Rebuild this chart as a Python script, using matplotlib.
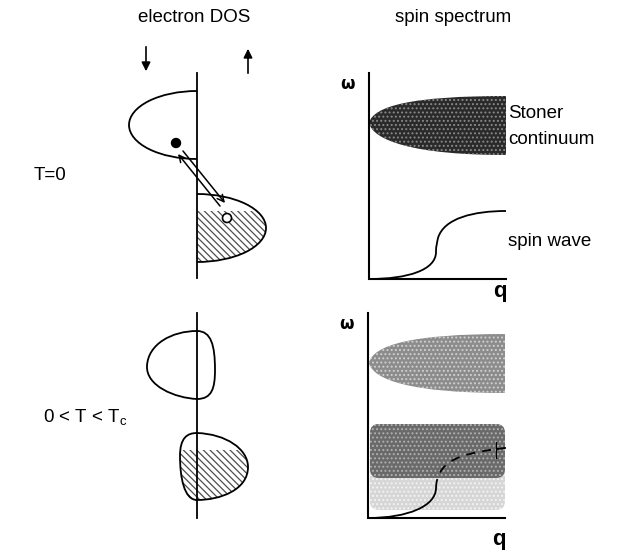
import matplotlib
matplotlib.use("Agg")
import matplotlib.pyplot as plt
from matplotlib.path import Path
from matplotlib.patches import PathPatch, Arc, Ellipse, Circle, Rectangle, FancyBboxPatch

plt.rcParams['font.family'] = ['Liberation Sans', 'DejaVu Sans']
plt.rcParams['hatch.linewidth'] = 0.9

# ---- schematic geometry (pixel coordinates of the picture) ----
dos_axis_x = 197
dos_axis_y = [(73, 278), (313, 518)]          # T=0 panel, 0<T<Tc panel
spec_origin = [(369, 279), (368, 518)]        # omega/q axes origin
spec_top = [73, 313]
spec_right = [506, 505]
q_label_y = [292, 540]

# T=0 densities of states (half ellipses: centre y, half height, width)
dos_minority = (125, 34, 68)
dos_majority = (228, 34, 69)
fermi_T0 = 211
electron = (176, 143)
hole = (227, 218)

# 0<T<Tc densities of states, cubic bezier control points
blob_up = [(197, 331),
           (172, 331), (148, 344), (147, 366),
           (146, 386), (175, 398), (197, 399),
           (212, 399), (215, 388), (215, 370),
           (215, 345), (211, 331), (197, 331)]
blob_down = [(197, 433),
             (226, 434), (248, 449), (248, 467),
             (248, 490), (220, 500), (197, 500),
             (184, 500), (180, 477), (180, 456),
             (180, 438), (187, 433), (197, 433)]
fermi_Tc = 450

# Stoner continuum outlines
stoner_T0 = [(369, 123),
             (373, 106), (412, 96), (506, 96),
             (506, 116), (506, 136), (506, 155),
             (412, 155), (373, 140), (369, 123)]
stoner_Tc = [(369, 363),
             (373, 345), (412, 334), (505, 334),
             (505, 354), (505, 374), (505, 393),
             (412, 393), (373, 380), (369, 363)]

# spin-wave dispersion
spinwave_T0 = [(369, 279),
               (408, 279), (436, 270), (436, 252),
               (436, 246), (437, 243), (438, 238),
               (444, 218), (474, 211), (506, 211)]
spinwave_Tc_solid = [(368, 518),
                     (408, 518), (436, 506), (436, 488)]
spinwave_Tc_dash = [(436, 488),
                    (437, 462), (458, 454), (497, 449)]
damped_box = (370, 424, 135, 86)
damped_dark_h = 54


def bezier(pts):
    codes = [Path.MOVETO] + [Path.CURVE4] * (len(pts) - 1)
    return Path(pts, codes)


fig = plt.figure(figsize=(6.17, 5.53), dpi=100)
ax = fig.add_axes([0, 0, 1, 1])
ax.set_xlim(0, 617)
ax.set_ylim(553, 0)
ax.axis('off')

# ---- titles / labels ----
fs = 13.5
ax.text(194, 18, 'electron DOS', ha='center', va='center', fontsize=fs)
ax.text(453, 18, 'spin spectrum', ha='center', va='center', fontsize=fs)
ax.text(50, 176, 'T=0', ha='center', va='center', fontsize=fs)
ax.text(85, 418, r'0 < T < T$_\mathregular{c}$', ha='center', va='center', fontsize=fs)
ax.text(508, 113, 'Stoner', ha='left', va='center', fontsize=fs)
ax.text(508, 140, 'continuum', ha='left', va='center', fontsize=fs)
ax.text(508, 242, 'spin wave', ha='left', va='center', fontsize=fs)

# spin direction arrows
ax.annotate('', xy=(146, 74), xytext=(146, 44),
            arrowprops=dict(arrowstyle='-|>', color='k', lw=1.2, mutation_scale=13))
ax.annotate('', xy=(248, 46), xytext=(248, 76),
            arrowprops=dict(arrowstyle='-|>', color='k', lw=1.2, mutation_scale=13))

# ---- electron DOS panels ----
for y0, y1 in dos_axis_y:
    ax.plot([dos_axis_x, dos_axis_x], [y0, y1], color='k', lw=1.3)

cy, hh, w = dos_minority
ax.add_patch(Arc((dos_axis_x, cy), 2 * w, 2 * hh, theta1=90, theta2=270, color='k', lw=1.3))
cy, hh, w = dos_majority
hatched = Ellipse((dos_axis_x, cy), 2 * w, 2 * hh, facecolor='none',
                  edgecolor='#4d4d4d', hatch='\\\\\\\\\\', lw=0)
ax.add_patch(hatched)
hatched.set_clip_path(Rectangle((dos_axis_x, fermi_T0), 200, 200, transform=ax.transData))
ax.add_patch(Arc((dos_axis_x, cy), 2 * w, 2 * hh, theta1=-90, theta2=90, color='k', lw=1.3))

ax.add_patch(Circle(electron, 4.5, color='k', zorder=5))
ax.add_patch(Circle(hole, 4.5, facecolor='white', edgecolor='k', lw=1.2, zorder=5))
ax.annotate('', xy=(178, 154), xytext=(220, 206),
            arrowprops=dict(arrowstyle='->', color='k', lw=1.1, mutation_scale=12,
                            shrinkA=0, shrinkB=0))
ax.annotate('', xy=(225, 203), xytext=(183, 151),
            arrowprops=dict(arrowstyle='->', color='k', lw=1.1, mutation_scale=12,
                            shrinkA=0, shrinkB=0))

ax.add_patch(PathPatch(bezier(blob_up), facecolor='none', edgecolor='k', lw=1.3))
hatched = PathPatch(bezier(blob_down), facecolor='none', edgecolor='#4d4d4d',
                    hatch='\\\\\\\\\\', lw=0)
ax.add_patch(hatched)
hatched.set_clip_path(Rectangle((100, fermi_Tc), 200, 100, transform=ax.transData))
ax.add_patch(PathPatch(bezier(blob_down), facecolor='none', edgecolor='k', lw=1.3))

# ---- spin spectrum panels ----
# Stoner continua
ax.add_patch(PathPatch(bezier(stoner_T0), facecolor='#2a2a2a', edgecolor='#8a8a8a',
                       hatch='....', lw=0))
ax.add_patch(PathPatch(bezier(stoner_Tc), facecolor='#8c8c8c', edgecolor='#d0d0d0',
                       hatch='....', lw=0))

# damped spin-wave region
bx, by, bw, bh = damped_box
ax.add_patch(FancyBboxPatch((bx, by), bw, bh, boxstyle='round,pad=0,rounding_size=9',
                            facecolor='#d6d6d6', edgecolor='#f4f4f4', hatch='....', lw=0))
ax.add_patch(FancyBboxPatch((bx, by), bw, damped_dark_h, boxstyle='round,pad=0,rounding_size=9',
                            facecolor='#6a6a6a', edgecolor='#b0b0b0', hatch='....', lw=0))

# spin-wave dispersions
ax.add_patch(PathPatch(bezier(spinwave_T0), facecolor='none', edgecolor='k', lw=1.3))
ax.add_patch(PathPatch(bezier(spinwave_Tc_solid), facecolor='none', edgecolor='k', lw=1.3))
ax.add_patch(PathPatch(bezier(spinwave_Tc_dash), facecolor='none', edgecolor='k', lw=1.3,
                       linestyle=(0, (5, 4))))
ax.plot([497, 505], [449, 448], color='k', lw=1.3)
ax.plot([496, 496], [442, 458], color='k', lw=0.8)

# axes of the spectra
for (ox, oy), top, right, qy in zip(spec_origin, spec_top, spec_right, q_label_y):
    ax.plot([ox, ox, right], [top, oy, oy], color='k', lw=1.5, solid_joinstyle='miter')
    ax.text(ox - 21, top + 12, r'$\mathbf{\omega}$', ha='center', va='center',
            fontsize=12, family='Liberation Serif', fontweight='bold')
    ax.text(right - 6, qy, 'q', ha='center', va='center', fontsize=16, fontweight='bold')

fig.savefig('out.png', dpi=100)
